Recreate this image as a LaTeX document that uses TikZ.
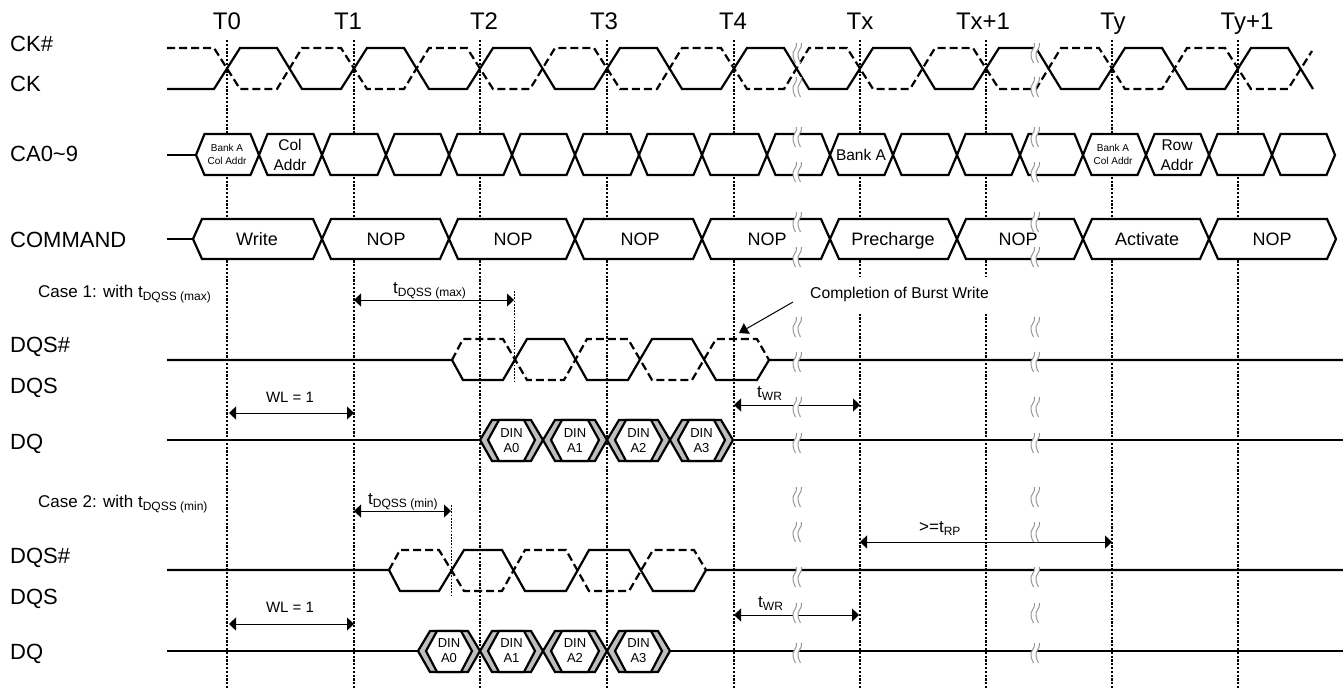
\documentclass[tikz,border=0pt]{standalone}
\usepackage{fontspec}
\setmainfont{Liberation Sans}
\usepackage{xcolor}
\usepackage{tikz}
\usetikzlibrary{arrows.meta, positioning, calc}
\definecolor{softgray}{RGB}{150,150,150}
\definecolor{bandgray}{RGB}{190,190,190}
\newcommand{\lowtext}[1]{\raisebox{-3pt}{\fontsize{12}{12}\selectfont #1}}

\begin{document}
\begin{tikzpicture}[
        x=1pt, y=-1pt,
        wave/.style={line width=2.2pt, line join=miter},
        compl/.style={line width=2.2pt, dash pattern=on 8pt off 4pt},
        bus/.style={wave, fill=white},
        gridline/.style={line width=1.2pt, dash pattern=on 2.2pt off 1.6pt},
        probe/.style={line width=0.9pt, dash pattern=on 1.8pt off 1.4pt},
        span/.style={{Triangle[length=7pt,width=13pt]}-{Triangle[length=7pt,width=13pt]}, line width=1pt},
        spanend/.style={-{Triangle[length=9pt,width=12pt]}, line width=1pt},
        sig/.style={anchor=base west, inner sep=0pt, font=\fontsize{22}{24}\selectfont},
        clk/.style={anchor=base, inner sep=0pt, font=\fontsize{24}{26}\selectfont},
        cmdtext/.style={anchor=base, inner sep=0pt, font=\fontsize{18}{20}\selectfont},
        addr/.style={inner sep=0pt, align=center, font=\fontsize{15.5}{20}\selectfont},
        addrsmall/.style={inner sep=0pt, align=center, font=\fontsize{10}{13}\selectfont},
        din/.style={inner sep=0pt, align=center, font=\fontsize{13}{15.5}\selectfont},
        note/.style={anchor=base west, inner sep=0pt, font=\fontsize{17}{20}\selectfont},
        wltext/.style={inner sep=0pt, font=\fontsize{15}{17}\selectfont},
        breakmark/.pic={
            \fill[white] (-0.5,-10) .. controls (0.5,-4) and (-5.5,-2) .. (-4,3) .. controls (-3.5,6) and (-2.5,8) .. (-1.5,10)
                -- (3.5,10) .. controls (2.5,8) and (1.5,6) .. (1,3) .. controls (-0.5,-2) and (5.5,-4) .. (4.5,-10) -- cycle;
            \draw[softgray, line width=1pt] (-0.5,-10) .. controls (0.5,-4) and (-5.5,-2) .. (-4,3) .. controls (-3.5,6) and (-2.5,8) .. (-1.5,10);
            \draw[softgray, line width=1pt] (4.5,-10) .. controls (5.5,-4) and (-0.5,-2) .. (1,3) .. controls (1.5,6) and (2.5,8) .. (3.5,10);
        }
    ]
    \useasboundingbox (0,0) rectangle (1343,688);

    % clock labels and grid
    \foreach \lbl/\lx/\gx in {T0/227/227, T1/348/354, T2/484/480, T3/604/607, T4/733/734, Tx/860/860, Tx+1/983/986, Ty/1113/1112, Ty+1/1247/1238} {
        \node[clk] (lab\gx) at (\lx,29) {\lbl};
        \coordinate (grid\gx) at (\gx,40);
        \draw[gridline] (grid\gx) -- (\gx,688);
    }

    % CK, CK#
    \draw[compl] (167,48) \foreach \t in {227,354,480,607,734,860,986,1112} {
        -- (\t-13,48) -- (\t+13,89) -- (\t+50,89) -- (\t+75,48) }
        -- (1225,48) -- (1251,89) -- (1288,89) -- (1312,51);
    \draw[wave] (167,89) \foreach \t in {227,354,480,607,734,860,986,1112,1238} {
        -- (\t-13,89) -- (\t+13,48) -- (\t+50,48) -- (\t+75,89) };

    % CA0~9
    \draw[wave] (167,155) -- (196,155);
    \foreach \a/\b in {196/259, 259/322, 322/386, 386/449, 449/512, 512/575, 575/639, 639/702, 702/767, 767/830, 830/893, 893/957, 957/1020, 1020/1083, 1083/1146, 1146/1209, 1209/1272, 1272/1335} {
        \draw[bus] (\a,155) -- (\a+8.5,134) -- (\b-8.5,134) -- (\b,155) -- (\b-8.5,175) -- (\a+8.5,175) -- cycle;
    }
    \node[addrsmall] (ca0) at (227,154.5) {Bank A\\Col Addr};
    \node[addr] (ca1) at (290,155) {Col\\Addr};
    \node[addr] (ca2) at (861,154.5) {Bank A};
    \node[addrsmall] (ca3) at (1113,154.5) {Bank A\\Col Addr};
    \node[addr] (ca4) at (1177,155) {Row\\Addr};

    % COMMAND
    \draw[wave] (167,239) -- (193,239);
    \foreach \a/\b in {193/322, 322/449, 449/575, 575/702, 702/830, 830/957, 957/1083, 1083/1209, 1209/1336} {
        \draw[bus] (\a,239) -- (\a+9,219) -- (\b-9,219) -- (\b,239) -- (\b-9,259) -- (\a+9,259) -- cycle;
    }
    \foreach \x/\cmd in {257/Write, 386/NOP, 513/NOP, 640/NOP, 767/NOP, 893/Precharge, 1018/NOP, 1147/Activate, 1272/NOP} {
        \node[cmdtext] (cmd\x) at (\x,245) {\cmd};
    }

    % case 1
    \draw[compl] (452,360) -- (463,339) -- (503,339) -- (527,380) -- (564,380) -- (587,339) -- (628,339) -- (652,380) -- (692,380) -- (716,339) -- (757,339) -- (769,360);
    \draw[wave] (167,360) -- (452,360) -- (463,380) -- (503,380) -- (527,339) -- (564,339) -- (587,380) -- (628,380) -- (652,339) -- (692,339) -- (716,380) -- (757,380) -- (769,360) -- (1343,360);
    \draw[wave] (167,440) -- (480,440);
    \draw[wave] (733,440) -- (1343,440);
    \foreach \a/\b/\lbl in {480/543/A0, 543/607/A1, 607/670/A2, 670/733/A3} {
        \draw[bus, fill=bandgray] (\a,440) -- (\a+12,420) -- (\b-12,420) -- (\b,440) -- (\b-12,461) -- (\a+12,461) -- cycle;
        \draw[bus] (\a+8,440) -- (\a+19,420) -- (\b-19,420) -- (\b-8,440) -- (\b-19,461) -- (\a+19,461) -- cycle;
        \node[din] (din1\lbl) at (\a/2+\b/2,440.5) {DIN\\\lbl};
    }

    % case 2
    \draw[compl] (389,570) -- (400,550) -- (439,550) -- (464,591) -- (502,591) -- (525,550) -- (566,550) -- (589,591) -- (629,591) -- (653,550) -- (694,550) -- (706,570);
    \draw[wave] (167,570) -- (389,570) -- (400,591) -- (439,591) -- (464,550) -- (502,550) -- (525,591) -- (566,591) -- (589,550) -- (629,550) -- (653,591) -- (694,591) -- (706,570) -- (1343,570);
    \draw[wave] (167,651) -- (418,651);
    \draw[wave] (670,651) -- (1343,651);
    \foreach \a/\b/\lbl in {418/480/A0, 480/543/A1, 543/607/A2, 607/670/A3} {
        \draw[bus, fill=bandgray] (\a,651) -- (\a+12,631) -- (\b-12,631) -- (\b,651) -- (\b-12,672) -- (\a+12,672) -- cycle;
        \draw[bus] (\a+8,651) -- (\a+19,631) -- (\b-19,631) -- (\b-8,651) -- (\b-19,672) -- (\a+19,672) -- cycle;
        \node[din] (din2\lbl) at (\a/2+\b/2,650.5) {DIN\\\lbl};
    }

    % timing spans
    \coordinate (qmaxa) at (354,300);
    \coordinate (qmaxb) at (514,300);
    \coordinate (qmina) at (354,511);
    \coordinate (qminb) at (451,511);
    \coordinate (wla) at (229,413);
    \coordinate (wlb) at (354,413);
    \coordinate (wlc) at (229,624);
    \coordinate (wld) at (354,624);
    \coordinate (wra) at (734,405);
    \coordinate (wrb) at (860,405);
    \coordinate (wrc) at (734,615);
    \coordinate (wrd) at (859,615);
    \coordinate (rpa) at (860,542);
    \coordinate (rpb) at (1112,542);
    \coordinate (donea) at (793,302);
    \coordinate (doneb) at (739,333);
    \draw[probe] (514,291) -- (514,381);
    \draw[probe] (451,505) -- (451,595);
    \draw[span] (qmaxa) -- (qmaxb);
    \draw[span] (qmina) -- (qminb);
    \draw[span] (wla) -- (wlb);
    \draw[span] (wlc) -- (wld);
    \draw[span] (wra) -- (wrb);
    \draw[span] (wrc) -- (wrd);
    \draw[span] (rpa) -- (rpb);
    \draw[spanend] (donea) -- (doneb);

    % breaks
    \foreach \x in {797,1035} {
        \foreach \y in {53,87,137,172,222,257,327,362,407,443,497,532,577,613,653} {
            \pic at (\x,\y) {breakmark};
        }
    }

    % signal names
    \node[sig] (ckn) at (10,51) {CK\#};
    \node[sig] (ck) at (10,91) {CK};
    \node[sig] (ca) at (10,161) {CA0\textasciitilde 9};
    \node[sig] (command) at (10,247) {COMMAND};
    \node[sig] (dqsna) at (10,352) {DQS\#};
    \node[sig] (dqsa) at (10,393) {DQS};
    \node[sig] (dqa) at (10,449) {DQ};
    \node[sig] (dqsnb) at (10,563) {DQS\#};
    \node[sig] (dqsb) at (10,604) {DQS};
    \node[sig] (dqb) at (10,659) {DQ};

    % annotations
    \node[note] (caseone) at (38,297) {Case 1: with t\lowtext{DQSS (max)}};
    \node[note] (casetwo) at (38,507) {Case 2: with t\lowtext{DQSS (min)}};
    \node[note] (qmax) at (393,293) {t\lowtext{DQSS (max)}};
    \node[note] (qmin) at (368,504) {t\lowtext{DQSS (min)}};
    \node[note] (wrone) at (757,397) {t\lowtext{WR}};
    \node[note] (wrtwo) at (758,607) {t\lowtext{WR}};
    \node[note] (rp) at (919,532) {>=t\lowtext{RP}};
    \node[wltext] (wlone) at (290,397) {WL = 1};
    \node[wltext] (wltwo) at (290,607) {WL = 1};
    \node[fill=white, inner xsep=1pt, inner ysep=0pt, minimum height=35pt, font=\fontsize{15.7}{18}\selectfont] (done) at (899.5,294.5) {Completion of Burst Write};
\end{tikzpicture}
\end{document}
